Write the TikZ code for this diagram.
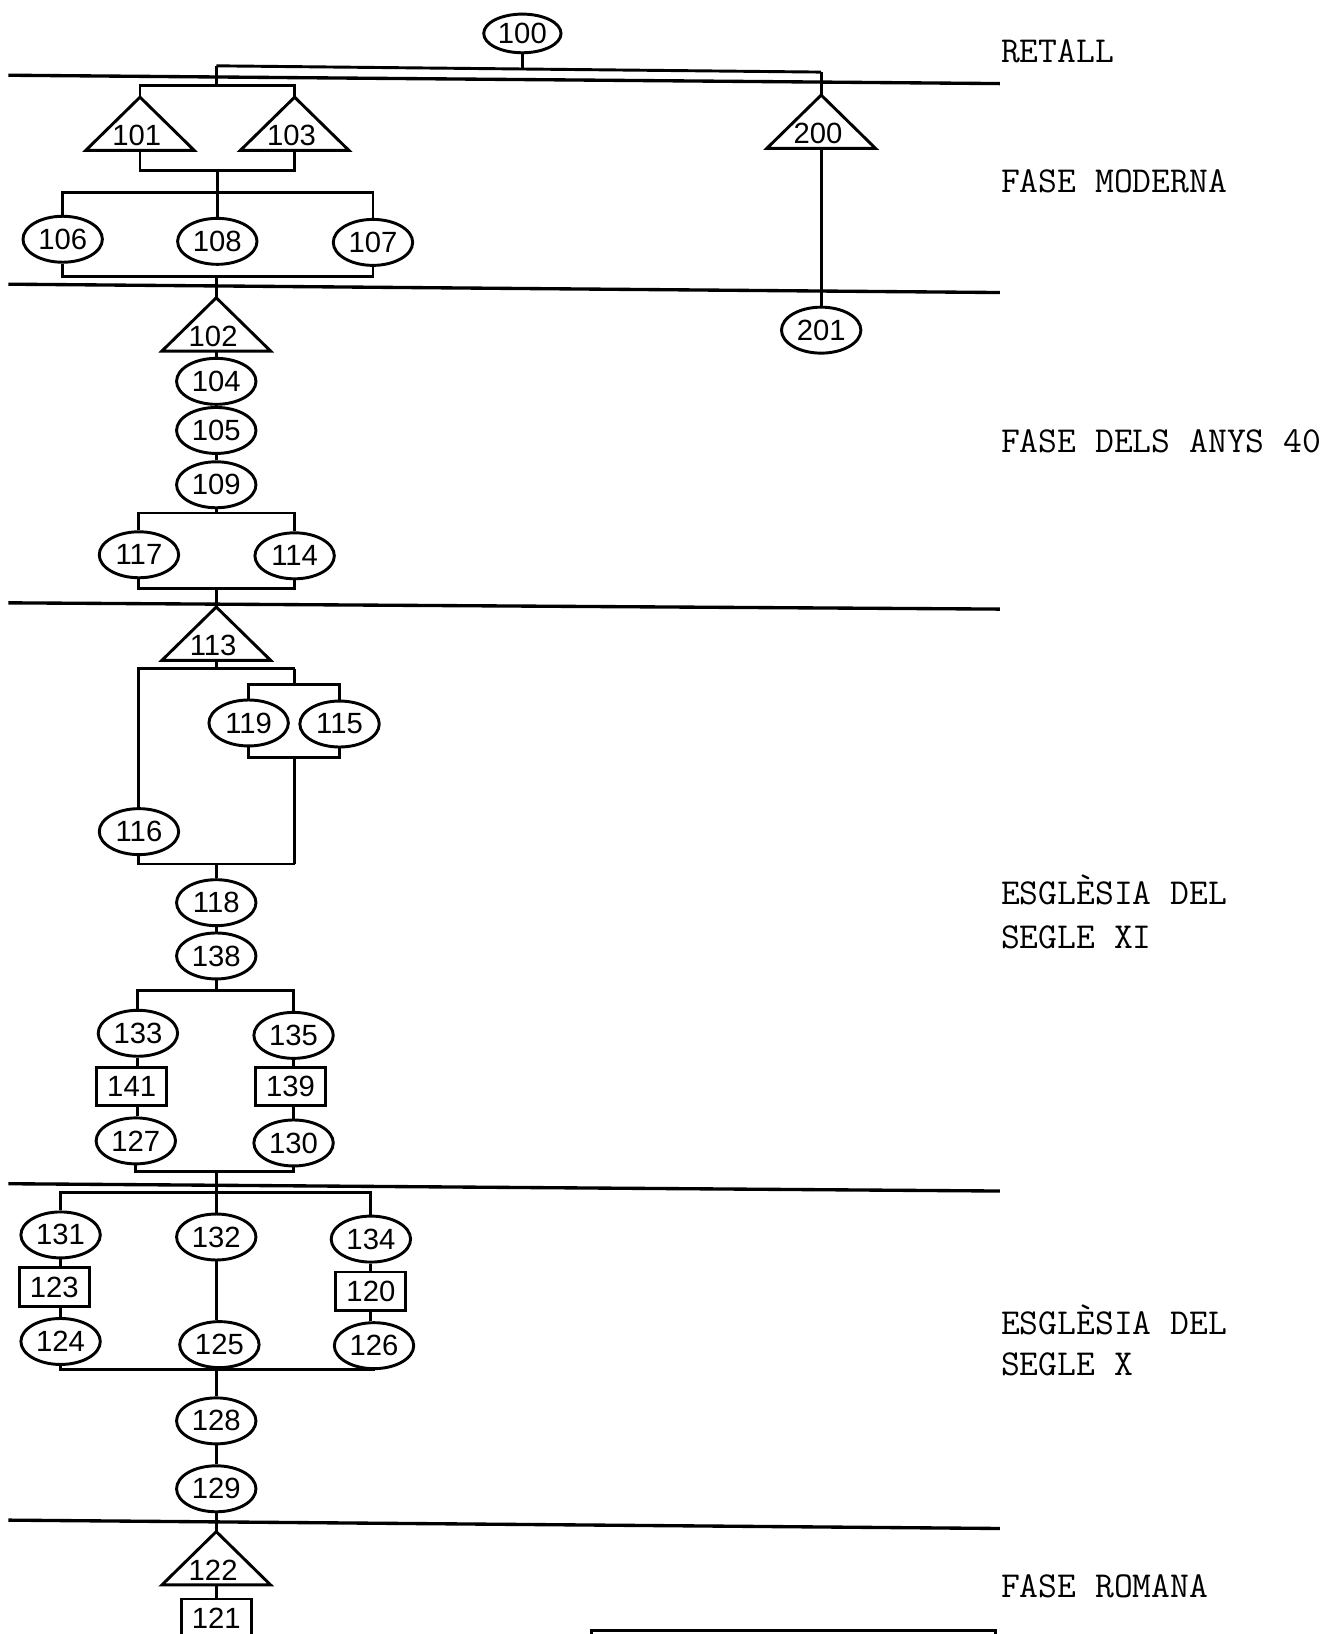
\documentclass[tikz,border=0pt]{standalone}
\usepackage{fontspec}
\setmainfont{Liberation Sans}
\usetikzlibrary{shapes.geometric,calc}
\newcommand{\mytri}[4]{%
  \coordinate (#1a) at (#2,#3);
  \coordinate (#1b) at (#2,{#3+51});
  \draw[con] ({#2-52},{#3+51}) -- (#2,#3) -- ({#2+52},{#3+51}) -- cycle;
  \node[inner sep=0pt] (#1) at ({#2-3},{#3+37}) {#4};}
\begin{document}
\begin{tikzpicture}[x=1pt,y=-1pt,
  every node/.style={font=\fontsize{28}{31}\selectfont},
  ell/.style={draw, ellipse, line width=2.8pt, minimum width=76pt, minimum height=44pt, inner sep=0pt},
  box/.style={draw, rectangle, line width=2.8pt, minimum width=67pt, minimum height=37pt, inner sep=0pt},
  con/.style={line width=2.8pt},
  sep/.style={line width=3.2pt},
  phase/.style={anchor=base west, font=\ttfamily\fontsize{35}{40}\selectfont, inner sep=0pt}]
\useasboundingbox (0,0) rectangle (1284,1564);

% separators
\draw[sep] (8,72) -- (957,80);
\draw[sep] (8,272) -- (957,280);
\draw[sep] (8,577) -- (957,583);
\draw[sep] (8,1133) -- (957,1140);
\draw[sep] (8,1455) -- (957,1463);

% phase labels
\node[phase] (l1) at (958,60) {RETALL};
\node[phase] (l2) at (958,184) {FASE MODERNA};
\node[phase] (l3) at (958,433) {FASE DELS ANYS 40};
\node[phase] (l4) at (958,866) {ESGLÈSIA DEL};
\node[phase] (l5) at (958,908) {SEGLE XI};
\node[phase] (l6) at (958,1277) {ESGLÈSIA DEL};
\node[phase] (l7) at (958,1317) {SEGLE X};
\node[phase] (l8) at (958,1529) {FASE ROMANA};

% ellipses
\node[ell, minimum width=74pt, minimum height=37pt] (n100) at (500,32) {100};
\node[ell] (n106) at (60,229) {106};
\node[ell] (n108) at (208,231) {108};
\node[ell] (n107) at (357,232) {107};
\node[ell] (n201) at (786,316) {201};
\node[ell] (n104) at (207,365) {104};
\node[ell] (n105) at (207,412) {105};
\node[ell] (n109) at (207,464) {109};
\node[ell] (n117) at (133,531) {117};
\node[ell] (n114) at (282,532) {114};
\node[ell] (n119) at (238,692) {119};
\node[ell] (n115) at (325,693) {115};
\node[ell] (n116) at (133,796) {116};
\node[ell] (n118) at (207,864) {118};
\node[ell] (n138) at (207,915) {138};
\node[ell] (n133) at (132,989) {133};
\node[ell] (n135) at (281,991) {135};
\node[ell] (n127) at (130,1092) {127};
\node[ell] (n130) at (281,1094) {130};
\node[ell] (n131) at (58,1182) {131};
\node[ell] (n132) at (207,1184) {132};
\node[ell] (n134) at (355,1186) {134};
\node[ell] (n124) at (58,1284) {124};
\node[ell] (n125) at (210,1287) {125};
\node[ell] (n126) at (358,1288) {126};
\node[ell] (n128) at (207,1360) {128};
\node[ell] (n129) at (207,1425) {129};

% boxes
\node[box] (b141) at (126,1040) {141};
\node[box] (b139) at (278,1040) {139};
\node[box] (b123) at (52,1232) {123};
\node[box] (b120) at (355,1236) {120};
\node[box] (b121) at (207,1549) {121};

% triangles
\mytri{t101}{134}{93}{101}
\mytri{t103}{282}{93}{103}
\mytri{t200}{786}{91}{200}
\mytri{t102}{207}{285}{102}
\mytri{t113}{207}{581}{113}
\mytri{t122}{207}{1466}{122}

% connectors
\coordinate (topL) at (207,63);
\coordinate (topR) at (786,69);
\coordinate (top100) at (500,66);
\draw[con] (topL) -- (topR);
\draw[con] (n100.south) -- (top100);
\coordinate (j1) at (207,82);
\draw[con] (topL) -- (j1);
\draw[con] (t101a) |- (j1) -| (t103a);
\draw[con] (topR) -- (t200a);
\coordinate (j2) at (208,163);
\draw[con] (t101b) |- (j2) -| (t103b);
\coordinate (j3) at (208,184);
\draw[con] (j2) -- (j3);
\draw[con] (n106.north) |- (j3) -| (n107.north);
\draw[con] (j3) -- (n108.north);
\coordinate (j4) at (207,265);
\draw[con] (n106.south) |- (j4) -| (n107.south);
\draw[con] (j4) -- (t102a);
\draw[con] (t200b) -- (n201.north);
\draw[con] (t102b) -- (n104.north);
\draw[con] (n104.south) -- (n105.north);
\draw[con] (n105.south) -- (n109.north);
\coordinate (j5) at (207,491);
\draw[con] (n109.south) -- (j5);
\draw[con] (n117.north) |- (j5) -| (n114.north);
\coordinate (j6) at (207,563);
\draw[con] (n117.south) |- (j6) -| (n114.south);
\draw[con] (j6) -- (t113a);
\coordinate (j7) at (207,640);
\coordinate (j7r) at (282,640);
\draw[con] (t113b) -- (j7);
\draw[con] (n116.north) |- (j7) -- (j7r);
\coordinate (j8) at (282,655);
\draw[con] (j7r) -- (j8);
\draw[con] (n119.north) |- (j8) -| (n115.north);
\coordinate (j9) at (282,725);
\draw[con] (n119.south) |- (j9) -| (n115.south);
\coordinate (j10) at (282,827);
\coordinate (j11) at (207,827);
\draw[con] (j9) -- (j10);
\draw[con] (n116.south) |- (j11) -- (j10);
\draw[con] (j11) -- (n118.north);
\draw[con] (n118.south) -- (n138.north);
\coordinate (j12) at (207,948);
\draw[con] (n138.south) -- (j12);
\draw[con] (n133.north) |- (j12) -| (n135.north);
\draw[con] (n133.south) -- (n133.south |- b141.north);
\draw[con] (n133.south |- b141.south) -- (n133.south |- n127.north);
\draw[con] (n135.south) -- (n135.south |- b139.north);
\draw[con] (n135.south |- b139.south) -- (n130.north);
\coordinate (j13) at (207,1121);
\draw[con] (n127.south) |- (j13) -| (n130.south);
\coordinate (j14) at (207,1141);
\draw[con] (j13) -- (j14);
\draw[con] (n131.north) |- (j14) -| (n134.north);
\draw[con] (j14) -- (n132.north);
\draw[con] (n131.south) -- (n131.south |- b123.north);
\draw[con] (n131.south |- b123.south) -- (n124.north);
\draw[con] (n134.south) -- (b120.north);
\draw[con] (b120.south) -- (b120.south |- n126.north);
\draw[con] (n132.south) -- (n132.south |- n125.north);
\coordinate (j15) at (207,1311);
\draw[con] (n124.south) |- (j15) -| (n126.south);
\draw[con] (n125.south) -- (n125.south |- j15);
\draw[con] (j15) -- (n128.north);
\draw[con] (n128.south) -- (n129.north);
\draw[con] (n129.south) -- (t122a);
\draw[con] (t122b) -- (b121.north);

% partial box at the bottom
\draw[con] (566,1561) rectangle (953,1640);
\end{tikzpicture}
\end{document}
